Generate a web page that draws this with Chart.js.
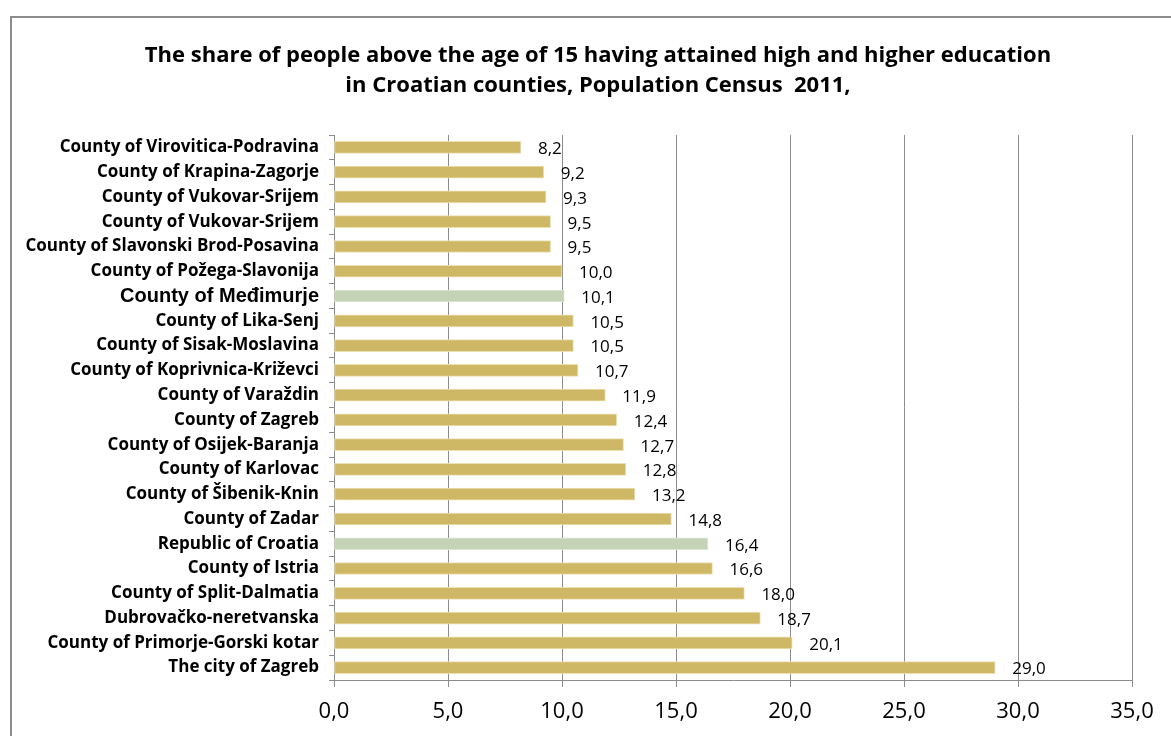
<!DOCTYPE html>
<html lang="en">
<head>
    <meta charset="UTF-8">
    <title>High and higher education by county, Census 2011</title>
    <script src="https://cdn.jsdelivr.net/npm/chart.js"></script>
    <style>
        body { margin: 0; background: #fff; }
        #wrap { width: 1171px; height: 736px; }
    </style>
</head>
<body>
    <div id="wrap">
        <canvas id="eduChart" width="1171" height="736"></canvas>
    </div>

    <script>
        var titleLines = [
            'The share of people above the age of 15 having attained high and higher education',
            'in Croatian counties, Population Census  2011,'
        ];
        // counties, top to bottom
        var counties = [
            'County of Virovitica-Podravina',
            'County of Krapina-Zagorje',
            'County of Vukovar-Srijem',
            'County of Vukovar-Srijem',
            'County of Slavonski Brod-Posavina',
            'County of Požega-Slavonija',
            'County of Međimurje',
            'County of Lika-Senj',
            'County of Sisak-Moslavina',
            'County of Koprivnica-Križevci',
            'County of Varaždin',
            'County of Zagreb',
            'County of Osijek-Baranja',
            'County of Karlovac',
            'County of Šibenik-Knin',
            'County of Zadar',
            'Republic of Croatia',
            'County of Istria',
            'County of Split-Dalmatia',
            'Dubrovačko-neretvanska',
            'County of Primorje-Gorski kotar',
            'The city of Zagreb'
        ];
        var shares = [8.2, 9.2, 9.3, 9.5, 9.5, 10.0, 10.1, 10.5, 10.5, 10.7, 11.9,
                      12.4, 12.7, 12.8, 13.2, 14.8, 16.4, 16.6, 18.0, 18.7, 20.1, 29.0];
        // rows shown in green
        var highlighted = ['County of Međimurje', 'Republic of Croatia'];

        var GOLD = '#cfb865';
        var GREEN = '#c4d3b5';

        function fmt(v) {
            return v.toFixed(1).replace('.', ',');
        }

        // grey frame and the two-line heading
        var framePlugin = {
            id: 'frame',
            beforeDraw: function (chart) {
                var c = chart.ctx;
                c.save();
                c.strokeStyle = '#8c8c8c';
                c.lineWidth = 2;
                c.strokeRect(11, 17, 1300, 900);
                c.fillStyle = '#000';
                c.font = 'bold 22px "Open Sans"';
                c.textAlign = 'center';
                c.textBaseline = 'middle';
                titleLines.forEach(function (t, i) {
                    c.fillText(t, 598, 56 + i * 30);
                });
                c.restore();
            }
        };

        // value labels to the right of each bar
        var valueLabels = {
            id: 'valueLabels',
            afterDatasetsDraw: function (chart) {
                var c = chart.ctx;
                var meta = chart.getDatasetMeta(0);
                c.save();
                c.font = '17px "Open Sans"';
                c.fillStyle = '#000';
                c.textBaseline = 'middle';
                c.textAlign = 'left';
                meta.data.forEach(function (bar, i) {
                    c.fillText(fmt(shares[i]), bar.x + 17, bar.y + 2);
                });
                c.restore();
            }
        };

        var ctx = document.getElementById('eduChart').getContext('2d');
        var eduChart = new Chart(ctx, {
            type: 'bar',
            data: {
                labels: counties,
                datasets: [{
                    data: shares,
                    backgroundColor: counties.map(function (n) {
                        return highlighted.indexOf(n) >= 0 ? GREEN : GOLD;
                    }),
                    borderColor: counties.map(function (n) {
                        return highlighted.indexOf(n) >= 0 ? '#dde6d4' : '#ebe0b4';
                    }),
                    borderWidth: 1,
                    borderSkipped: false,
                    barThickness: 12
                }]
            },
            options: {
                indexAxis: 'y',
                responsive: false,
                animation: false,
                layout: {
                    padding: { left: 0, right: 39, top: 135, bottom: 0 }
                },
                scales: {
                    x: {
                        min: 0,
                        max: 35,
                        ticks: {
                            stepSize: 5,
                            color: '#000',
                            padding: 12,
                            font: { family: 'Open Sans', size: 22 },
                            callback: function (v) { return fmt(v); }
                        },
                        grid: {
                            color: '#8c8c8c',
                            lineWidth: 1,
                            tickLength: 7
                        },
                        border: { color: '#8c8c8c' },
                        afterFit: function (scale) { scale.height = 56; }
                    },
                    y: {
                        ticks: {
                            autoSkip: false,
                            color: '#000',
                            padding: 10,
                            font: function (c) {
                                if (c.index === 6) {
                                    return { family: 'Liberation Sans', size: 20, weight: 'bold' };
                                }
                                return { family: 'Open Sans', size: 17, weight: 'bold' };
                            }
                        },
                        grid: {
                            drawOnChartArea: false,
                            color: '#8c8c8c',
                            tickLength: 5
                        },
                        border: { color: '#8c8c8c' },
                        afterFit: function (scale) { scale.width = 334; }
                    }
                },
                plugins: {
                    legend: { display: false },
                    tooltip: { enabled: false },
                    title: { display: false }
                }
            },
            plugins: [framePlugin, valueLabels]
        });
    </script>
</body>
</html>
